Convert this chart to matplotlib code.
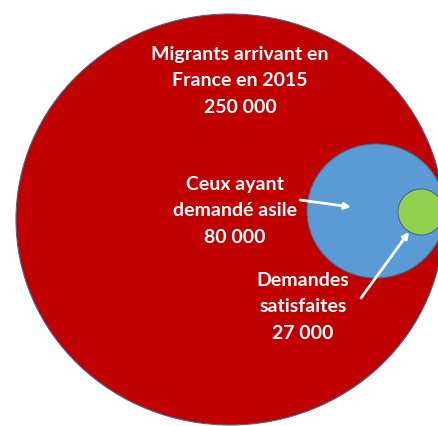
import matplotlib.pyplot as plt
from matplotlib.patches import Ellipse

# data
labels = ["Migrants arrivant en\nFrance en 2015", "Ceux ayant\ndemandé asile", "Demandes\nsatisfaites"]
values = ["250 000", "80 000", "27 000"]
colors = ["#C00000", "#5B9BD5", "#92D050"]

# layout (pixel coords of the picture)
centers = [(230, 219.5), (376, 211), (421, 212)]
sizes = [(428, 411), (138, 134), (46, 46)]
text_pos = [(240, 81), (235, 211), (303, 307)]
arrows = [((300, 200), (351, 207)), ((361, 298), (409, 232))]

plt.rcParams['font.family'] = ['Lato', 'DejaVu Sans']

fig = plt.figure(figsize=(4.38, 4.26), dpi=100)
ax = fig.add_axes([0, 0, 1, 1])
ax.set_xlim(0, 438)
ax.set_ylim(426, 0)
ax.axis('off')

for (cx, cy), (w, h), c in zip(centers, sizes, colors):
    ax.add_patch(Ellipse((cx, cy), w, h, facecolor=c, edgecolor='#46698c', linewidth=0.8))

for (tx, ty), lab, v in zip(text_pos, labels, values):
    ax.text(tx, ty, lab + "\n" + v, color='white', fontsize=14, fontweight='bold',
            ha='center', va='center', linespacing=1.65)

for start, end in arrows:
    ax.annotate("", xy=end, xytext=start,
                arrowprops=dict(arrowstyle='-|>', color='white', lw=2,
                                mutation_scale=9, shrinkA=0, shrinkB=0))

fig.savefig("out.png", dpi=100)
